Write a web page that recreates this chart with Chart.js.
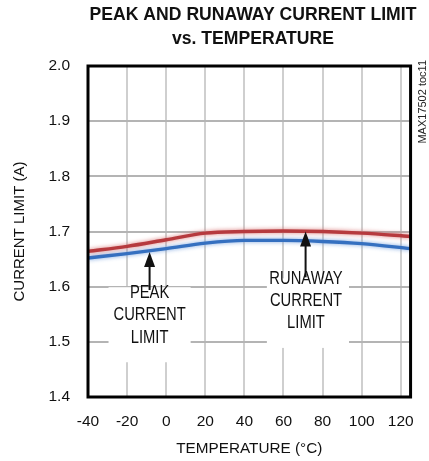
<!DOCTYPE html>
<html>
<head>
<meta charset="utf-8">
<script src="https://cdn.jsdelivr.net/npm/chart.js@4/dist/chart.umd.min.js"></script>
<style>
  html, body { margin: 0; padding: 0; background: #ffffff; }
  #wrap { width: 429px; height: 461px; position: relative; }
</style>
</head>
<body>
<div id="wrap"><canvas id="c" width="429" height="461"></canvas></div>
<script>
// ---- data ----
const temperatures = [-40, -20, 0, 20, 40, 60, 80, 100, 125];
const runawayLimit = [1.664, 1.673, 1.685, 1.697, 1.700, 1.701, 1.700, 1.697, 1.691];
const peakLimit    = [1.652, 1.660, 1.669, 1.679, 1.684, 1.684, 1.682, 1.678, 1.669];
const xTickValues = [-40, -20, 0, 20, 40, 60, 80, 100, 120];
const yTickValues = [1.4, 1.5, 1.6, 1.7, 1.8, 1.9, 2.0];
const titleLines = ['PEAK AND RUNAWAY CURRENT LIMIT', 'vs. TEMPERATURE'];
const xTitle = 'TEMPERATURE (°C)';
const yTitle = 'CURRENT LIMIT (A)';
const sideNote = 'MAX17502 toc11';
const peakLabel = ['PEAK', 'CURRENT', 'LIMIT'];
const runawayLabel = ['RUNAWAY', 'CURRENT', 'LIMIT'];

// annotation placement (data coordinates)
const annotations = [
  { lines: peakLabel, textX: -8.5, textY: 1.5885, lineStep: 0.0405,
    box: [-29.5, 12.5, 1.599, 1.463], arrowX: -8.5, arrowFrom: 1.594, arrowTo: 1.663 },
  { lines: runawayLabel, textX: 71.5, textY: 1.6145, lineStep: 0.0400,
    box: [51.5, 93.5, 1.615, 1.489], arrowX: 71.3, arrowFrom: 1.617, arrowTo: 1.700 }
];

const REG = '"Liberation Sans", Arial, sans-serif';

const haloPlugin = {
  id: 'halo',
  beforeDatasetDraw(chart, args) {
    const ds = chart.data.datasets[args.index];
    chart.ctx.save();
    chart.ctx.shadowColor = ds.haloColor;
    chart.ctx.shadowBlur = 4;
  },
  afterDatasetDraw(chart) { chart.ctx.restore(); }
};

const decorPlugin = {
  id: 'decor',
  beforeDatasetsDraw(chart) {
    const { ctx, scales: { x, y } } = chart;
    ctx.save();
    ctx.fillStyle = '#ffffff';
    annotations.forEach(a => {
      const x0 = x.getPixelForValue(a.box[0]), x1 = x.getPixelForValue(a.box[1]);
      const y0 = y.getPixelForValue(a.box[2]), y1 = y.getPixelForValue(a.box[3]);
      ctx.fillRect(x0, y0, x1 - x0, y1 - y0);
    });
    ctx.restore();
  },
  afterDatasetsDraw(chart) {
    const { ctx, scales: { x, y } } = chart;
    ctx.save();
    ctx.fillStyle = '#111111';
    ctx.strokeStyle = '#111111';
    annotations.forEach(a => {
      const cx = x.getPixelForValue(a.textX);
      a.lines.forEach((t, i) => {
        ctx.save();
        ctx.translate(cx, y.getPixelForValue(a.textY - i * a.lineStep));
        ctx.scale(0.82, 1);
        ctx.font = '18px ' + REG;
        ctx.textAlign = 'center';
        ctx.textBaseline = 'middle';
        ctx.fillText(t, 0, 0);
        ctx.restore();
      });
      const ax = x.getPixelForValue(a.arrowX);
      const yb = y.getPixelForValue(a.arrowFrom);
      const yt = y.getPixelForValue(a.arrowTo);
      ctx.lineWidth = 2;
      ctx.beginPath();
      ctx.moveTo(ax, yb);
      ctx.lineTo(ax, yt + 12);
      ctx.stroke();
      ctx.beginPath();
      ctx.moveTo(ax, yt);
      ctx.lineTo(ax - 5.5, yt + 15);
      ctx.lineTo(ax + 5.5, yt + 15);
      ctx.closePath();
      ctx.fill();
    });
    ctx.restore();
  },
  afterDraw(chart) {
    const { ctx, chartArea: ca } = chart;
    ctx.save();
    ctx.strokeStyle = '#000000';
    ctx.lineWidth = 3;
    ctx.strokeRect(ca.left, ca.top, ca.right - ca.left, ca.bottom - ca.top);
    // title
    ctx.fillStyle = '#111111';
    ctx.font = 'bold 17.6px ' + REG;
    ctx.textAlign = 'center';
    ctx.textBaseline = 'middle';
    ctx.fillText(titleLines[0], 253, 15);
    ctx.fillText(titleLines[1], 253, 39.5);
    // side note
    ctx.translate(428, 60);
    ctx.rotate(-Math.PI / 2);
    ctx.font = '11px ' + REG;
    ctx.textAlign = 'right';
    ctx.textBaseline = 'bottom';
    ctx.fillStyle = '#222222';
    ctx.fillText(sideNote, 0, 0);
    ctx.restore();
  }
};

new Chart(document.getElementById('c'), {
  type: 'line',
  data: {
    datasets: [
      { label: 'Runaway current limit',
        data: temperatures.map((t, i) => ({ x: t, y: runawayLimit[i] })),
        borderColor: '#b63a3e', haloColor: 'rgba(215,110,110,0.9)', borderWidth: 3.4,
        pointRadius: 0, cubicInterpolationMode: 'monotone', fill: false },
      { label: 'Peak current limit',
        data: temperatures.map((t, i) => ({ x: t, y: peakLimit[i] })),
        borderColor: '#3570c0', haloColor: 'rgba(110,155,220,0.9)', borderWidth: 3.4,
        pointRadius: 0, cubicInterpolationMode: 'monotone', fill: false }
    ]
  },
  options: {
    responsive: false,
    animation: false,
    devicePixelRatio: 1,
    layout: { padding: { top: 66, right: 9, left: 0, bottom: 0 } },
    plugins: { legend: { display: false }, title: { display: false }, tooltip: { enabled: false } },
    scales: {
      x: {
        type: 'linear', min: -40, max: 125,
        afterFit(s) { s.height = 64; },
        afterBuildTicks(s) { s.ticks = xTickValues.map(v => ({ value: v })); },
        grid: { color: '#cfcfcf', lineWidth: 2, drawTicks: false },
        border: { display: false },
        ticks: { padding: 15, color: '#111111', font: { family: REG, size: 15.5 }, maxRotation: 0,
                 autoSkip: false, callback: v => String(v) },
        title: { display: true, text: xTitle, color: '#111111',
                 font: { family: REG, size: 15.3 }, padding: { top: 3, bottom: 3 } }
      },
      y: {
        type: 'linear', min: 1.4, max: 2.0,
        afterFit(s) { s.width = 88; },
        afterBuildTicks(s) { s.ticks = yTickValues.map(v => ({ value: v })); },
        grid: { color: '#b4b4b4', lineWidth: 2, drawTicks: false },
        border: { display: false },
        ticks: { padding: 18, color: '#111111', font: { family: REG, size: 15.5 },
                 autoSkip: false, callback: v => Number(v).toFixed(1) },
        title: { display: true, text: yTitle, color: '#111111',
                 font: { family: REG, size: 15 }, padding: { top: 11, bottom: 11 } }
      }
    }
  },
  plugins: [haloPlugin, decorPlugin]
});
</script>
</body>
</html>
